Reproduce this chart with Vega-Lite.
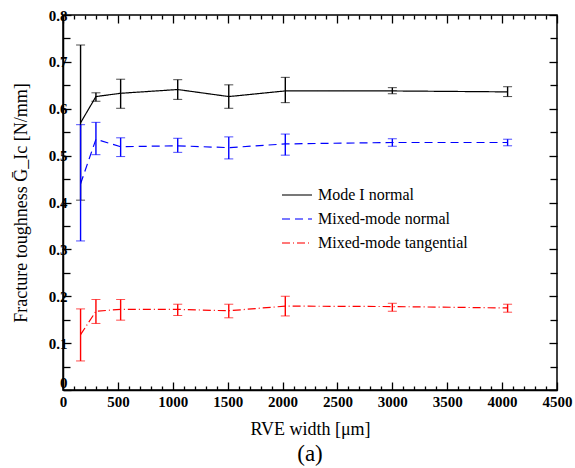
{
  "$schema": "https://vega.github.io/schema/vega-lite/v6.json",
  "width": 494,
  "height": 375,
  "autosize": {"type": "none"},
  "padding": {"left": 63, "top": 15, "right": 18, "bottom": 78},
  "background": "white",
  "config": {
    "font": "Liberation Serif",
    "view": {"stroke": "black", "strokeWidth": 1.5},
    "axis": {"grid": false, "domainColor": "black", "domainWidth": 1.5, "tickColor": "black", "tickWidth": 1.3}
  },
  "title": {"text": "(a)", "orient": "bottom", "fontSize": 23, "fontWeight": "normal", "font": "Liberation Serif", "offset": 5, "color": "black"},
  "data": {
    "values": [
      {"series": "Mode I normal", "x": 160, "y": 0.57, "lo": 0.405, "hi": 0.736},
      {"series": "Mode I normal", "x": 300, "y": 0.626, "lo": 0.616, "hi": 0.634},
      {"series": "Mode I normal", "x": 525, "y": 0.633, "lo": 0.601, "hi": 0.663},
      {"series": "Mode I normal", "x": 1045, "y": 0.641, "lo": 0.620, "hi": 0.662},
      {"series": "Mode I normal", "x": 1510, "y": 0.626, "lo": 0.601, "hi": 0.651},
      {"series": "Mode I normal", "x": 2025, "y": 0.638, "lo": 0.613, "hi": 0.667},
      {"series": "Mode I normal", "x": 3000, "y": 0.638, "lo": 0.632, "hi": 0.645},
      {"series": "Mode I normal", "x": 4050, "y": 0.636, "lo": 0.626, "hi": 0.647},
      {"series": "Mixed-mode normal", "x": 160, "y": 0.44, "lo": 0.318, "hi": 0.566},
      {"series": "Mixed-mode normal", "x": 300, "y": 0.535, "lo": 0.502, "hi": 0.571},
      {"series": "Mixed-mode normal", "x": 525, "y": 0.519, "lo": 0.498, "hi": 0.538},
      {"series": "Mixed-mode normal", "x": 1045, "y": 0.521, "lo": 0.507, "hi": 0.537},
      {"series": "Mixed-mode normal", "x": 1510, "y": 0.517, "lo": 0.493, "hi": 0.540},
      {"series": "Mixed-mode normal", "x": 2025, "y": 0.525, "lo": 0.501, "hi": 0.546},
      {"series": "Mixed-mode normal", "x": 3000, "y": 0.528, "lo": 0.520, "hi": 0.536},
      {"series": "Mixed-mode normal", "x": 4050, "y": 0.528, "lo": 0.521, "hi": 0.535},
      {"series": "Mixed-mode tangential", "x": 160, "y": 0.118, "lo": 0.062, "hi": 0.173},
      {"series": "Mixed-mode tangential", "x": 300, "y": 0.168, "lo": 0.142, "hi": 0.193},
      {"series": "Mixed-mode tangential", "x": 525, "y": 0.172, "lo": 0.149, "hi": 0.193},
      {"series": "Mixed-mode tangential", "x": 1045, "y": 0.172, "lo": 0.159, "hi": 0.183},
      {"series": "Mixed-mode tangential", "x": 1510, "y": 0.169, "lo": 0.154, "hi": 0.183},
      {"series": "Mixed-mode tangential", "x": 2025, "y": 0.179, "lo": 0.158, "hi": 0.200},
      {"series": "Mixed-mode tangential", "x": 3000, "y": 0.178, "lo": 0.168, "hi": 0.185},
      {"series": "Mixed-mode tangential", "x": 4050, "y": 0.175, "lo": 0.166, "hi": 0.183}
    ]
  },
  "layer": [
    {
      "mark": {"type": "line", "strokeWidth": 1.2},
      "encoding": {
        "x": {
          "field": "x", "type": "quantitative",
          "scale": {"domain": [0, 4500], "nice": false},
          "axis": {
            "orient": "bottom",
            "title": "RVE width [μm]",
            "titleFont": "Liberation Serif", "titleFontSize": 18, "titleFontWeight": "normal", "titleColor": "black", "titlePadding": 7,
            "values": [0,100,200,300,400,500,600,700,800,900,1000,1100,1200,1300,1400,1500,1600,1700,1800,1900,2000,2100,2200,2300,2400,2500,2600,2700,2800,2900,3000,3100,3200,3300,3400,3500,3600,3700,3800,3900,4000,4100,4200,4300,4400,4500],
            "labelExpr": "datum.value % 500 === 0 ? datum.label : ''",
            "format": "d",
            "tickSize": {"condition": {"test": "datum.value % 500 === 0", "value": -8}, "value": -4},
            "labelFont": "Liberation Serif", "labelFontSize": 15, "labelFontWeight": "bold", "labelColor": "black",
            "labelPadding": 12, "labelFlush": false, "labelOverlap": false
          }
        },
        "y": {
          "field": "y", "type": "quantitative",
          "scale": {"domain": [0, 0.8], "nice": false},
          "axis": {
            "orient": "left",
            "title": "Fracture toughness Ḡ_Ic [N/mm]",
            "titleFont": "Liberation Serif", "titleFontSize": 18, "titleFontWeight": "normal", "titleColor": "black", "titlePadding": 18,
            "values": [0,0.05,0.1,0.15,0.2,0.25,0.3,0.35,0.4,0.45,0.5,0.55,0.6,0.65,0.7,0.75,0.8],
            "labelExpr": "abs(datum.value*10 - round(datum.value*10)) < 0.001 ? (datum.value === 0 ? '0' : format(datum.value, '.1f')) : ''",
            "labelBaseline": {"condition": {"test": "datum.value === 0", "value": "bottom"}, "value": "middle"},
            "tickSize": {"condition": {"test": "abs(datum.value*10 - round(datum.value*10)) < 0.001", "value": -8}, "value": -7},
            "labelFont": "Liberation Serif", "labelFontSize": 15, "labelFontWeight": "bold", "labelColor": "black",
            "labelPadding": 4, "labelFlush": false, "labelOverlap": false
          }
        },
        "color": {
          "field": "series", "type": "nominal",
          "scale": {"domain": ["Mode I normal", "Mixed-mode normal", "Mixed-mode tangential"], "range": ["#000000", "#0000ff", "#ff0000"]},
          "legend": {
            "orient": "none", "legendX": 218, "legendY": 164, "title": null,
            "symbolType": "stroke", "symbolSize": 900, "symbolStrokeWidth": 1.3,
            "labelFont": "Liberation Serif", "labelFontSize": 16, "labelColor": "black", "labelLimit": 300,
            "labelOffset": 5, "rowPadding": -6
          }
        },
        "strokeDash": {
          "field": "series", "type": "nominal",
          "scale": {"domain": ["Mode I normal", "Mixed-mode normal", "Mixed-mode tangential"], "range": [[1, 0], [8, 5], [8, 3, 1, 3]]},
          "legend": null
        }
      }
    },
    {
      "mark": {"type": "errorbar", "ticks": {"size": 9}, "rule": {"strokeWidth": 1.4}},
      "encoding": {
        "x": {
          "field": "x", "type": "quantitative",
          "scale": {"domain": [0, 4500], "nice": false},
          "axis": {
            "orient": "top", "title": null, "labels": false, "domain": false,
            "values": [0,100,200,300,400,500,600,700,800,900,1000,1100,1200,1300,1400,1500,1600,1700,1800,1900,2000,2100,2200,2300,2400,2500,2600,2700,2800,2900,3000,3100,3200,3300,3400,3500,3600,3700,3800,3900,4000,4100,4200,4300,4400,4500],
            "tickSize": {"condition": {"test": "datum.value % 500 === 0", "value": -8}, "value": -4}
          }
        },
        "y": {
          "field": "lo", "type": "quantitative",
          "scale": {"domain": [0, 0.8], "nice": false},
          "axis": {
            "orient": "right", "title": null, "labels": false, "domain": false,
            "values": [0,0.05,0.1,0.15,0.2,0.25,0.3,0.35,0.4,0.45,0.5,0.55,0.6,0.65,0.7,0.75,0.8],
            "tickSize": {"condition": {"test": "abs(datum.value*10 - round(datum.value*10)) < 0.001", "value": -8}, "value": -7}
          }
        },
        "y2": {"field": "hi"},
        "color": {"field": "series", "type": "nominal"}
      }
    }
  ],
  "resolve": {"axis": {"x": "independent", "y": "independent"}}
}
